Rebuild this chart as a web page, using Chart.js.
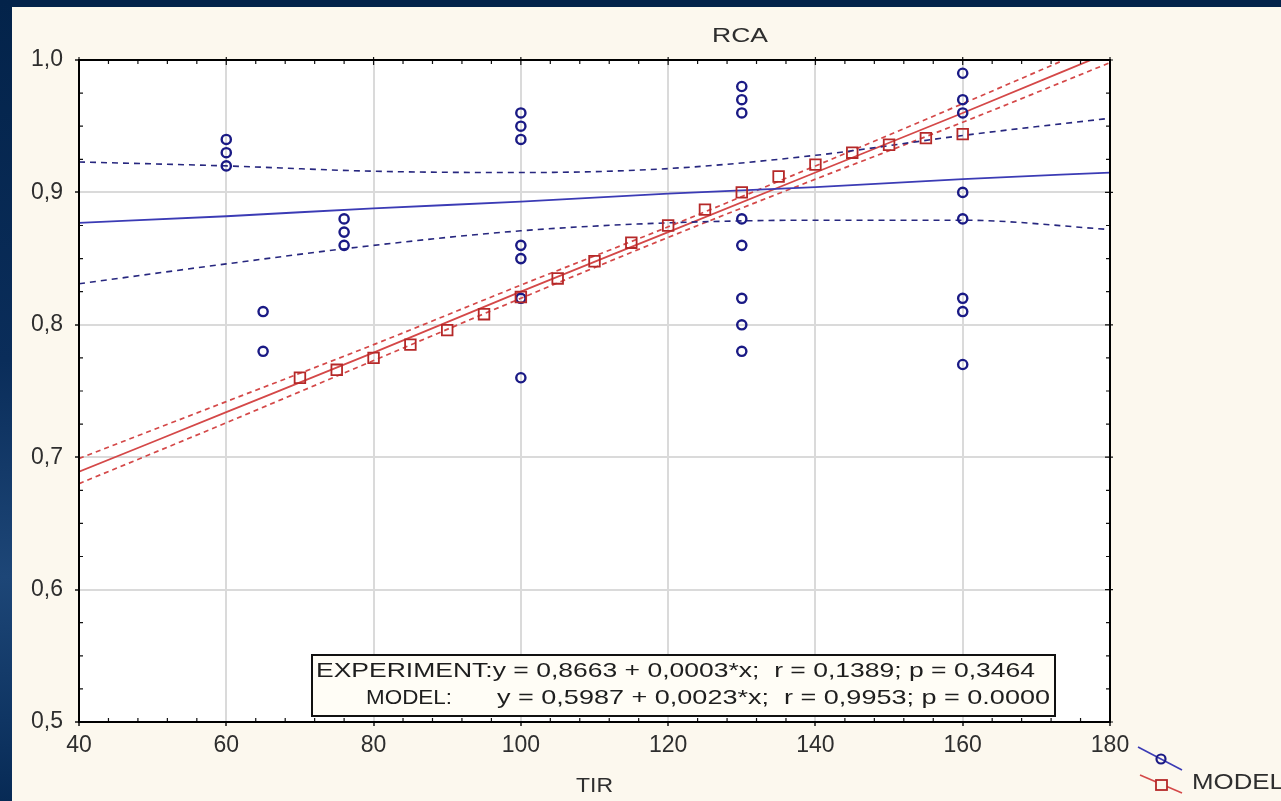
<!DOCTYPE html>
<html lang="en">
<head>
  <meta charset="UTF-8" />
  <title>RCA vs TIR</title>
  <script src="https://cdn.jsdelivr.net/npm/chart.js"></script>
  <style>
    html, body { margin: 0; padding: 0; background: #fcf8ee; overflow: hidden; }
    canvas { display: block; }
  </style>
</head>
<body>
  <canvas id="rca" width="1281" height="801"></canvas>

  <script>
    // --- data ---
    const xTicks = [40, 60, 80, 100, 120, 140, 160, 180];
    const yTickLabels = ['0,5', '0,6', '0,7', '0,8', '0,9', '1,0'];

    // EXPERIMENT: measured points
    const expX = [60, 60, 60, 65, 65, 76, 76, 76,
                  100, 100, 100, 100, 100, 100, 100,
                  130, 130, 130, 130, 130, 130, 130, 130,
                  160, 160, 160, 160, 160, 160, 160, 160];
    const expY = [0.94, 0.93, 0.92, 0.81, 0.78, 0.88, 0.87, 0.86,
                  0.96, 0.95, 0.94, 0.86, 0.85, 0.82, 0.76,
                  0.98, 0.97, 0.96, 0.88, 0.86, 0.82, 0.80, 0.78,
                  0.99, 0.97, 0.96, 0.90, 0.88, 0.82, 0.81, 0.77];

    // MODEL: computed points
    const modelX = [70, 75, 80, 85, 90, 95, 100, 105, 110, 115, 120, 125, 130, 135, 140, 145, 150, 155, 160];
    const modelY = [0.760, 0.766, 0.775, 0.785, 0.796, 0.808, 0.821, 0.835, 0.848, 0.862,
                    0.875, 0.887, 0.900, 0.912, 0.921, 0.930, 0.936, 0.941, 0.944];

    // fitted lines and 95% bands, sampled at the x ticks
    const fitX = [40, 60, 80, 100, 120, 140, 160, 180];
    const expFit = [0.877, 0.882, 0.888, 0.893, 0.899, 0.904, 0.910, 0.915];
    const expUpper = [0.923, 0.920, 0.916, 0.915, 0.918, 0.928, 0.943, 0.956];
    const expLower = [0.831, 0.846, 0.860, 0.871, 0.877, 0.879, 0.879, 0.872];
    const modelFit = [0.689, 0.734, 0.779, 0.825, 0.870, 0.915, 0.960, 1.006];
    const modelUpper = [0.699, 0.742, 0.785, 0.830, 0.874, 0.920, 0.967, 1.015];
    const modelLower = [0.680, 0.726, 0.773, 0.820, 0.866, 0.910, 0.953, 0.998];

    const expText = 'EXPERIMENT:y = 0,8663 + 0,0003*x;  r = 0,1389; p = 0,3464';
    const modelLabel = 'MODEL:';
    const modelText = 'y = 0,5987 + 0,0023*x;  r = 0,9953; p = 0.0000';

    const pts = (xs, ys) => xs.map((x, i) => ({ x: x, y: ys[i] }));

    const FONT = '"Liberation Sans", Arial, sans-serif';
    const TEXT = '#2e2e2e';
    const NAVY = '#1a1a85';
    const BLUE = '#3b3bb5';
    const BLUE_DASH = '#27277f';
    const RED = '#b52828';
    const RED_LINE = '#d44848';

    function lineSet(data, color, dash, width) {
      return {
        type: 'line',
        data: data,
        borderColor: color,
        borderWidth: width || 1.6,
        borderDash: dash || [],
        pointRadius: 0,
        fill: false,
        cubicInterpolationMode: 'monotone',
        clip: 0,
        order: 2
      };
    }

    // text squeezed/stretched to a target width
    function fitText(ctx, str, x, y, w) {
      const m = ctx.measureText(str).width;
      ctx.save();
      ctx.translate(x, y);
      ctx.scale(w / m, 1);
      ctx.fillText(str, 0, 0);
      ctx.restore();
    }

    const decor = {
      id: 'decor',
      beforeDraw(chart) {
        const ctx = chart.ctx;
        const a = chart.chartArea;
        ctx.save();
        ctx.fillStyle = '#fcf8ee';
        ctx.fillRect(0, 0, chart.width, chart.height);
        // frame of the slide
        ctx.fillStyle = '#03234a';
        ctx.fillRect(0, 0, chart.width, 7);
        const g = ctx.createLinearGradient(0, 0, 0, chart.height);
        g.addColorStop(0, '#03234a');
        g.addColorStop(0.45, '#0a2d5a');
        g.addColorStop(0.72, '#1d4677');
        g.addColorStop(0.9, '#0f3563');
        g.addColorStop(1, '#072a55');
        ctx.fillStyle = g;
        ctx.fillRect(0, 0, 12, chart.height);
        ctx.fillStyle = '#ffffff';
        ctx.fillRect(a.left, a.top, a.right - a.left, a.bottom - a.top);
        ctx.restore();
      },
      afterDatasetsDraw(chart) {
        const ctx = chart.ctx;
        const a = chart.chartArea;
        const xs = chart.scales.x, ys = chart.scales.y;
        ctx.save();
        // minor ticks, inward on all four sides
        ctx.strokeStyle = '#111';
        ctx.lineWidth = 1.2;
        ctx.beginPath();
        for (let v = 44; v < 180; v += 4) {
          if (v % 20 === 0) continue;
          const px = xs.getPixelForValue(v);
          ctx.moveTo(px, a.bottom); ctx.lineTo(px, a.bottom - 4);
          ctx.moveTo(px, a.top); ctx.lineTo(px, a.top + 4);
        }
        for (let k = 1; k < 20; k++) {
          if (k % 4 === 0) continue;
          const py = ys.getPixelForValue(0.5 + k * 0.025);
          ctx.moveTo(a.left, py); ctx.lineTo(a.left + 4, py);
          ctx.moveTo(a.right, py); ctx.lineTo(a.right - 4, py);
        }
        // major ticks on top and right
        xTicks.forEach(v => {
          const px = xs.getPixelForValue(v);
          ctx.moveTo(px, a.top - 3); ctx.lineTo(px, a.top + 5);
        });
        for (let k = 0; k <= 5; k++) {
          const py = ys.getPixelForValue(0.5 + k * 0.1);
          ctx.moveTo(a.right - 5, py); ctx.lineTo(a.right + 3, py);
        }
        ctx.stroke();
        // plot frame
        ctx.strokeStyle = '#000';
        ctx.lineWidth = 2;
        ctx.strokeRect(a.left, a.top, a.right - a.left, a.bottom - a.top);

        // equation box
        ctx.fillStyle = '#fffdf6';
        ctx.fillRect(312, 655, 743, 61);
        ctx.strokeStyle = '#111';
        ctx.lineWidth = 2;
        ctx.strokeRect(312, 655, 743, 61);
        ctx.fillStyle = '#1e1e1e';
        ctx.font = '21px ' + FONT;
        ctx.textBaseline = 'middle';
        ctx.textAlign = 'left';
        fitText(ctx, expText, 316, 671, 719);
        fitText(ctx, modelLabel, 366, 698, 86);
        fitText(ctx, modelText, 497, 698, 553);

        // title and axis title
        ctx.fillStyle = TEXT;
        ctx.font = '21px ' + FONT;
        fitText(ctx, 'RCA', 712, 36, 56);
        fitText(ctx, 'TIR', 576, 786, 37);

        // legend (cut by the right edge)
        ctx.strokeStyle = BLUE;
        ctx.lineWidth = 1.6;
        ctx.beginPath();
        ctx.moveTo(1138, 747); ctx.lineTo(1182, 770);
        ctx.stroke();
        ctx.strokeStyle = NAVY;
        ctx.lineWidth = 2.2;
        ctx.beginPath();
        ctx.arc(1161, 759, 4.5, 0, Math.PI * 2);
        ctx.stroke();
        ctx.strokeStyle = RED_LINE;
        ctx.lineWidth = 1.6;
        ctx.beginPath();
        ctx.moveTo(1140, 775); ctx.lineTo(1182, 793);
        ctx.stroke();
        ctx.fillStyle = '#fcf8ee';
        ctx.fillRect(1156, 780, 11, 10);
        ctx.strokeStyle = RED;
        ctx.lineWidth = 1.8;
        ctx.strokeRect(1156, 780, 11, 10);
        ctx.fillStyle = TEXT;
        ctx.font = '22px ' + FONT;
        fitText(ctx, 'MODEL', 1192, 783, 92);
        ctx.restore();
      }
    };

    new Chart(document.getElementById('rca'), {
      type: 'scatter',
      data: {
        datasets: [
          {
            label: 'EXPERIMENT',
            data: pts(expX, expY),
            pointStyle: 'circle',
            pointRadius: 4.6,
            borderColor: NAVY,
            borderWidth: 2.4,
            backgroundColor: 'rgba(0,0,0,0)',
            order: 1
          },
          {
            label: 'MODEL',
            data: pts(modelX, modelY),
            pointStyle: 'rect',
            pointRadius: 7.5,
            borderColor: RED,
            borderWidth: 1.8,
            backgroundColor: 'rgba(0,0,0,0)',
            order: 0
          },
          lineSet(pts(fitX, expFit), BLUE, [], 1.8),
          lineSet(pts(fitX, expUpper), BLUE_DASH, [6, 5], 1.6),
          lineSet(pts(fitX, expLower), BLUE_DASH, [6, 5], 1.6),
          lineSet(pts(fitX, modelFit), RED_LINE, [], 1.8),
          lineSet(pts(fitX, modelUpper), RED_LINE, [5, 4], 1.7),
          lineSet(pts(fitX, modelLower), RED_LINE, [5, 4], 1.7)
        ]
      },
      options: {
        responsive: false,
        animation: false,
        events: [],
        layout: { padding: { left: 0, top: 60, right: 171, bottom: 0 } },
        plugins: {
          legend: { display: false },
          tooltip: { enabled: false },
          title: { display: false }
        },
        scales: {
          x: {
            type: 'linear',
            min: 40,
            max: 180,
            afterFit: s => { s.height = 79; },
            afterBuildTicks: s => { s.ticks = xTicks.map(v => ({ value: v })); },
            ticks: {
              color: TEXT,
              font: { family: FONT, size: 23 },
              padding: 6,
              maxRotation: 0,
              callback: v => String(v)
            },
            grid: { color: '#dadada', lineWidth: 2, tickColor: '#111', tickLength: 4, tickWidth: 1.5 },
            border: { color: '#000', width: 2 }
          },
          y: {
            type: 'linear',
            min: 0.5,
            max: 1.0,
            afterFit: s => { s.width = 79; },
            afterBuildTicks: s => { s.ticks = yTickLabels.map((t, i) => ({ value: 0.5 + i * 0.1 })); },
            ticks: {
              color: TEXT,
              font: { family: FONT, size: 23 },
              padding: 12,
              callback: (v, i) => yTickLabels[i]
            },
            grid: { color: '#dadada', lineWidth: 2, tickColor: '#111', tickLength: 4, tickWidth: 1.5 },
            border: { color: '#000', width: 2 }
          }
        }
      },
      plugins: [decor]
    });
  </script>
</body>
</html>
